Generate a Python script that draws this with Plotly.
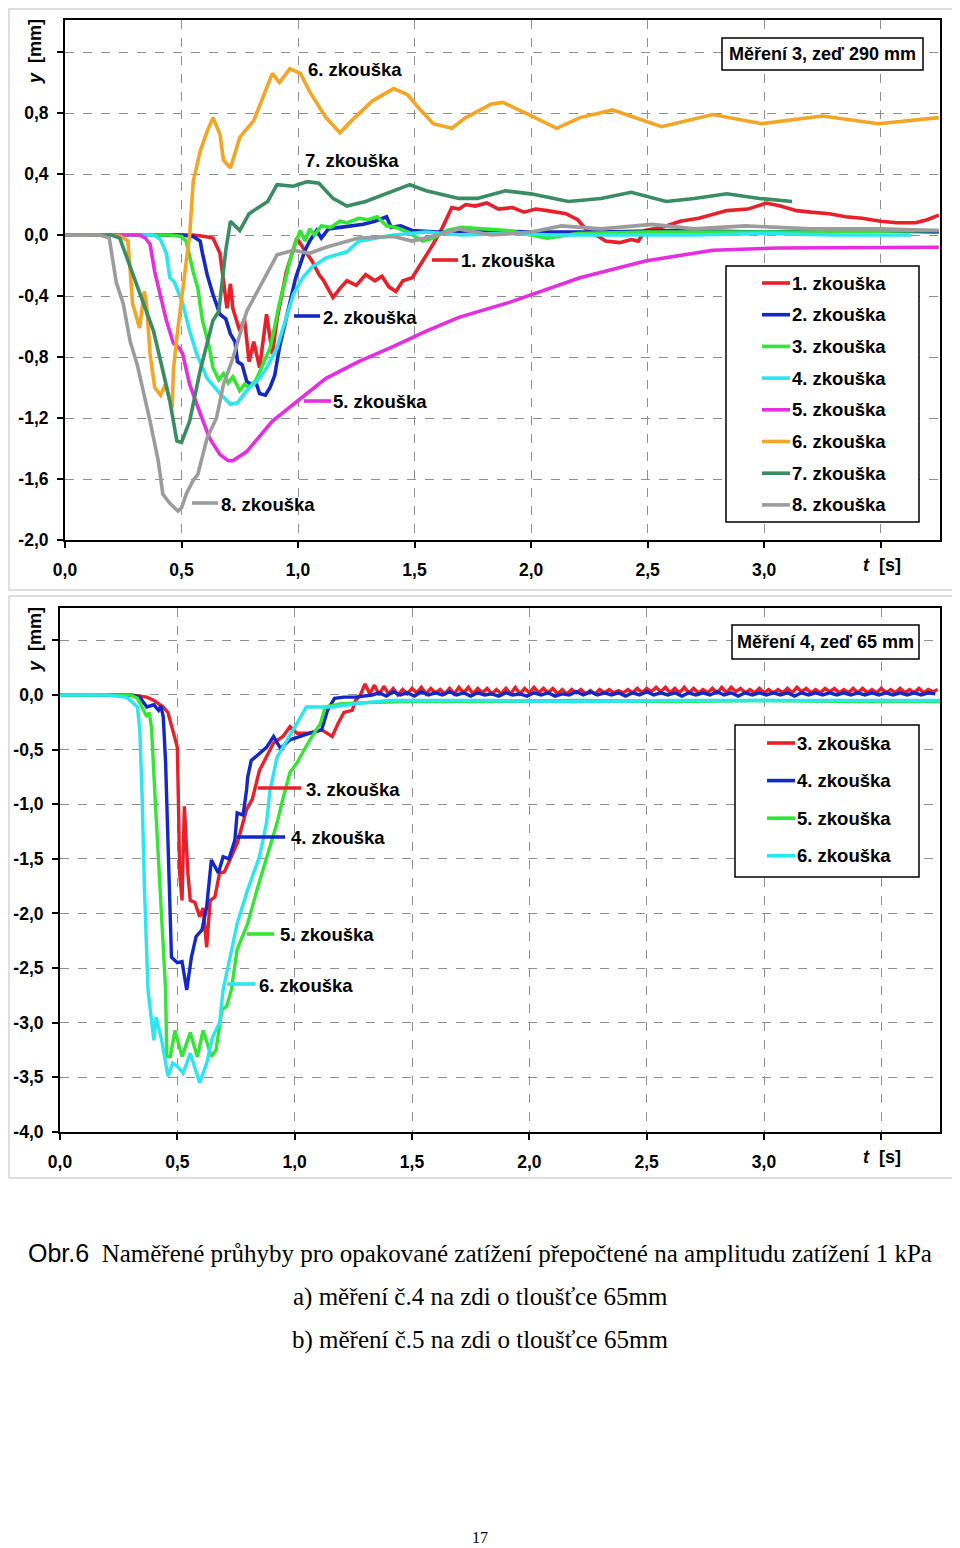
import plotly.graph_objects as go

# ---------------- DATA ----------------
top_names = ["1. zkouška", "2. zkouška", "3. zkouška", "4. zkouška",
             "5. zkouška", "6. zkouška", "7. zkouška", "8. zkouška"]
top_colors = ["#E8202A", "#1428C8", "#33E633", "#2BE5F0",
              "#E62DE0", "#F5A524", "#3A8C62", "#9C9C9C"]

top_s1 = [(0, 0), (0.30, 0), (0.55, 0), (0.60, -0.01), (0.635, -0.02), (0.665, -0.12), (0.68, -0.30),
          (0.695, -0.48), (0.71, -0.32), (0.72, -0.48), (0.75, -0.63), (0.77, -0.55), (0.79, -0.83),
          (0.81, -0.70), (0.835, -0.87), (0.865, -0.52), (0.89, -0.78), (0.91, -0.55), (0.95, -0.24),
          (0.995, -0.02), (1.02, -0.08), (1.06, -0.17), (1.09, -0.26), (1.11, -0.30), (1.15, -0.41),
          (1.18, -0.35), (1.21, -0.30), (1.25, -0.33), (1.29, -0.26), (1.33, -0.30), (1.36, -0.27),
          (1.39, -0.34), (1.42, -0.37), (1.45, -0.30), (1.49, -0.28), (1.535, -0.17), (1.58, -0.06),
          (1.62, 0.05), (1.66, 0.18), (1.69, 0.17), (1.72, 0.20), (1.76, 0.19), (1.81, 0.21),
          (1.86, 0.17), (1.92, 0.18), (1.97, 0.15), (2.02, 0.17), (2.07, 0.16), (2.15, 0.14),
          (2.20, 0.10), (2.24, 0.03), (2.28, 0.0), (2.32, -0.04), (2.38, -0.05), (2.43, -0.03),
          (2.46, -0.04), (2.49, 0.03), (2.56, 0.05), (2.64, 0.09), (2.72, 0.11), (2.84, 0.16),
          (2.93, 0.17), (3.01, 0.21), (3.07, 0.19), (3.14, 0.16), (3.20, 0.15), (3.28, 0.14),
          (3.35, 0.12), (3.42, 0.11), (3.50, 0.09), (3.57, 0.08), (3.65, 0.08), (3.70, 0.10), (3.75, 0.13)]

top_s2 = [(0, 0), (0.30, 0), (0.50, 0), (0.55, -0.01), (0.58, -0.04), (0.59, -0.12), (0.61, -0.26),
          (0.635, -0.39), (0.665, -0.52), (0.69, -0.55), (0.71, -0.65), (0.73, -0.70), (0.74, -0.83),
          (0.76, -0.85), (0.78, -0.96), (0.80, -0.98), (0.82, -0.97), (0.835, -1.04), (0.86, -1.05),
          (0.88, -1.00), (0.90, -0.92), (0.92, -0.74), (0.945, -0.58), (0.965, -0.45), (0.99, -0.28),
          (1.01, -0.19), (1.03, -0.10), (1.05, -0.04), (1.08, 0.03), (1.10, -0.02), (1.13, 0.04),
          (1.18, 0.05), (1.23, 0.06), (1.28, 0.07), (1.33, 0.09), (1.38, 0.12), (1.40, 0.05),
          (1.44, 0.06), (1.49, 0.03), (1.60, 0.02), (1.80, 0.03), (2.00, 0.02), (2.30, 0.02),
          (2.60, 0.03), (3.00, 0.02), (3.40, 0.03), (3.75, 0.02)]

top_s3 = [(0, 0), (0.30, 0), (0.45, 0), (0.50, -0.01), (0.52, -0.04), (0.55, -0.24), (0.57, -0.35),
          (0.59, -0.56), (0.61, -0.67), (0.62, -0.74), (0.635, -0.87), (0.66, -0.95), (0.68, -0.91),
          (0.70, -0.97), (0.72, -0.93), (0.75, -1.02), (0.77, -0.98), (0.79, -1.00), (0.82, -0.95),
          (0.85, -0.85), (0.88, -0.74), (0.90, -0.60), (0.92, -0.45), (0.945, -0.30), (0.965, -0.17),
          (0.99, -0.05), (1.01, 0.03), (1.03, -0.04), (1.05, 0.04), (1.07, 0.0), (1.10, 0.06),
          (1.14, 0.05), (1.18, 0.09), (1.21, 0.08), (1.26, 0.11), (1.30, 0.10), (1.34, 0.12),
          (1.38, 0.06), (1.42, 0.05), (1.47, 0.02), (1.535, -0.04), (1.58, -0.02), (1.64, 0.03),
          (1.70, 0.05), (1.78, 0.04), (1.90, 0.03), (2.00, 0.0), (2.07, -0.02), (2.20, 0.01),
          (2.50, 0.02), (2.80, 0.02), (3.20, 0.02), (3.75, 0.03)]

top_s4 = [(0, 0), (0.30, 0), (0.38, 0), (0.41, -0.03), (0.435, -0.12), (0.45, -0.28), (0.47, -0.31),
          (0.505, -0.45), (0.535, -0.63), (0.565, -0.78), (0.61, -0.94), (0.665, -1.04), (0.71, -1.11),
          (0.74, -1.10), (0.78, -1.02), (0.835, -0.94), (0.87, -0.86), (0.91, -0.74), (0.95, -0.55),
          (0.98, -0.39), (1.02, -0.28), (1.06, -0.21), (1.12, -0.15), (1.21, -0.11), (1.26, -0.04),
          (1.33, -0.02), (1.41, 0.0), (1.55, 0.02), (1.70, 0.0), (1.90, 0.01), (2.10, 0.0),
          (2.40, 0.0), (2.70, 0.0), (3.00, 0.01), (3.30, 0.0), (3.63, 0.0)]

top_s5 = [(0, 0), (0.30, 0), (0.32, 0), (0.345, -0.02), (0.365, -0.06), (0.385, -0.24), (0.41, -0.39),
          (0.435, -0.56), (0.465, -0.71), (0.49, -0.74), (0.505, -0.78), (0.535, -0.98), (0.58, -1.17),
          (0.62, -1.33), (0.665, -1.44), (0.70, -1.48), (0.72, -1.48), (0.78, -1.42), (0.89, -1.22),
          (1.01, -1.07), (1.12, -0.94), (1.26, -0.83), (1.41, -0.73), (1.55, -0.63), (1.69, -0.54),
          (1.91, -0.44), (2.21, -0.28), (2.49, -0.17), (2.78, -0.10), (3.06, -0.085), (3.40, -0.08),
          (3.75, -0.08)]

top_s6 = [(0, 0), (0.20, 0), (0.24, -0.01), (0.27, -0.04), (0.28, -0.24), (0.29, -0.45), (0.32, -0.61),
          (0.34, -0.37), (0.35, -0.45), (0.365, -0.78), (0.385, -1.00), (0.41, -1.05), (0.43, -0.98),
          (0.46, -1.13), (0.465, -0.89), (0.48, -0.67), (0.51, -0.30), (0.53, -0.04), (0.535, 0.0),
          (0.55, 0.35), (0.58, 0.55), (0.61, 0.68), (0.635, 0.77), (0.665, 0.66), (0.68, 0.49),
          (0.71, 0.44), (0.75, 0.64), (0.81, 0.75), (0.85, 0.90), (0.89, 1.06), (0.92, 1.00),
          (0.965, 1.09), (1.01, 1.06), (1.05, 0.94), (1.12, 0.77), (1.18, 0.67), (1.23, 0.75),
          (1.32, 0.88), (1.41, 0.96), (1.47, 0.92), (1.52, 0.83), (1.58, 0.73), (1.66, 0.70),
          (1.72, 0.77), (1.83, 0.86), (1.88, 0.87), (1.99, 0.79), (2.11, 0.70), (2.21, 0.77),
          (2.35, 0.82), (2.56, 0.71), (2.78, 0.79), (2.99, 0.73), (3.25, 0.78), (3.49, 0.73), (3.75, 0.77)]

top_s7 = [(0, 0), (0.20, 0), (0.235, -0.02), (0.27, -0.17), (0.32, -0.39), (0.38, -0.63), (0.42, -0.89),
          (0.45, -1.09), (0.48, -1.35), (0.50, -1.36), (0.535, -1.22), (0.58, -0.89), (0.635, -0.56),
          (0.66, -0.50), (0.69, -0.10), (0.71, 0.09), (0.75, 0.03), (0.79, 0.14), (0.83, 0.18),
          (0.87, 0.22), (0.91, 0.33), (0.98, 0.32), (1.04, 0.35), (1.09, 0.34), (1.15, 0.24),
          (1.21, 0.19), (1.29, 0.22), (1.41, 0.29), (1.48, 0.33), (1.55, 0.29), (1.69, 0.24),
          (1.77, 0.24), (1.89, 0.29), (2.00, 0.27), (2.16, 0.22), (2.30, 0.24), (2.43, 0.28),
          (2.58, 0.22), (2.70, 0.24), (2.84, 0.27), (2.98, 0.24), (3.12, 0.22)]

top_s8 = [(0, 0), (0.15, 0), (0.19, -0.02), (0.22, -0.31), (0.25, -0.45), (0.28, -0.70), (0.31, -0.85),
          (0.34, -1.04), (0.365, -1.22), (0.40, -1.48), (0.42, -1.70), (0.45, -1.76), (0.485, -1.81),
          (0.50, -1.79), (0.52, -1.70), (0.55, -1.61), (0.57, -1.57), (0.61, -1.33), (0.65, -1.20),
          (0.68, -0.98), (0.72, -0.81), (0.78, -0.50), (0.87, -0.24), (0.91, -0.13), (0.98, -0.10),
          (1.05, -0.12), (1.12, -0.08), (1.26, -0.02), (1.41, -0.01), (1.49, -0.04), (1.60, 0.0),
          (1.69, 0.04), (1.83, 0.0), (2.00, 0.02), (2.13, 0.06), (2.30, 0.04), (2.52, 0.07),
          (2.70, 0.04), (2.92, 0.06), (3.20, 0.04), (3.50, 0.04), (3.75, 0.03)]

top_series = [top_s1, top_s2, top_s3, top_s4, top_s5, top_s6, top_s7, top_s8]

bot_names = ["3. zkouška", "4. zkouška", "5. zkouška", "6. zkouška"]
bot_colors = ["#E8202A", "#1428C8", "#33E633", "#2BE5F0"]

bot_s3 = [(0, 0), (0.20, 0), (0.30, 0), (0.37, -0.02), (0.40, -0.05), (0.44, -0.11), (0.46, -0.16),
          (0.48, -0.32), (0.50, -0.48), (0.505, -1.02), (0.51, -1.63), (0.52, -1.88), (0.53, -1.02),
          (0.545, -1.63), (0.555, -1.88), (0.575, -1.90), (0.595, -2.03), (0.61, -1.95), (0.625, -2.31),
          (0.64, -1.88), (0.66, -1.85), (0.68, -1.63), (0.70, -1.62), (0.73, -1.48), (0.755, -1.36),
          (0.795, -1.05), (0.82, -0.95), (0.85, -0.69), (0.88, -0.57), (0.91, -0.44), (0.95, -0.38),
          (0.98, -0.29), (1.01, -0.35), (1.06, -0.35), (1.115, -0.32), (1.16, -0.38), (1.185, -0.26),
          (1.21, -0.16), (1.245, -0.14), (1.26, -0.05)]
bot_s3_tail_start = 1.28
bot_s3_tail_step = 0.02
bot_s3_tail = [0.00, 0.10, 0.01, 0.09, 0.00, 0.08, 0.01, 0.06, 0.00, 0.05, 0.01, 0.06, 0.02, 0.07,
               0.01, 0.06, 0.02, 0.05, 0.01, 0.06, 0.01, 0.07, 0.02, 0.07, 0.01, 0.06, 0.02, 0.06,
               0.01, 0.05, 0.01, 0.06, 0.01, 0.07, 0.01, 0.06, 0.02, 0.07, 0.02, 0.06, 0.02, 0.06,
               0.01, 0.05, 0.01, 0.05, 0.02, 0.05, 0.01, 0.04, 0.01, 0.05, 0.02, 0.05, 0.02, 0.04,
               0.02, 0.05, 0.02, 0.06, 0.02, 0.06, 0.03, 0.07, 0.03, 0.07, 0.02, 0.06, 0.02, 0.07,
               0.02, 0.06, 0.02, 0.05, 0.02, 0.06, 0.02, 0.07, 0.02, 0.07, 0.03, 0.06, 0.02, 0.05,
               0.02, 0.06, 0.02, 0.05, 0.02, 0.05, 0.02, 0.06, 0.02, 0.07, 0.03, 0.06, 0.02, 0.05,
               0.02, 0.06, 0.03, 0.06, 0.02, 0.05, 0.02, 0.06, 0.02, 0.06, 0.02, 0.05, 0.02, 0.06,
               0.02, 0.05, 0.02, 0.06, 0.02, 0.05, 0.02, 0.06, 0.02, 0.05, 0.03, 0.05]

bot_s4 = [(0, 0), (0.20, 0), (0.30, 0), (0.34, -0.02), (0.37, -0.11), (0.40, -0.09), (0.42, -0.14),
          (0.43, -0.10), (0.44, -0.20), (0.45, -0.62), (0.455, -1.02), (0.46, -1.48), (0.475, -2.40),
          (0.50, -2.45), (0.52, -2.44), (0.54, -2.70), (0.56, -2.40), (0.58, -2.21), (0.605, -2.15),
          (0.625, -1.94), (0.645, -1.51), (0.675, -1.63), (0.695, -1.48), (0.72, -1.50), (0.745, -1.33),
          (0.755, -1.08), (0.78, -1.10), (0.795, -0.87), (0.80, -0.75), (0.815, -0.60), (0.85, -0.53),
          (0.88, -0.48), (0.91, -0.38), (0.94, -0.49), (0.98, -0.41), (1.02, -0.38), (1.065, -0.35),
          (1.115, -0.32), (1.14, -0.14), (1.17, -0.03), (1.21, -0.02), (1.26, -0.02), (1.33, 0.0)]
bot_s4_tail_start = 1.36
bot_s4_tail_step = 0.03
bot_s4_tail = [0.02, -0.01, 0.03, 0.0, 0.02, -0.01, 0.03, 0.0, 0.02, 0.0, 0.03, 0.0, 0.02, -0.01,
               0.02, 0.0, 0.01, -0.01, 0.02, 0.0, 0.01, -0.01, 0.02, 0.0, 0.02, -0.01, 0.01, 0.0,
               0.03, 0.0, 0.03, 0.0, 0.02, 0.0, 0.02, -0.01, 0.02, 0.0, 0.03, 0.0, 0.02, 0.0,
               0.02, -0.01, 0.02, 0.0, 0.02, 0.0, 0.03, 0.0, 0.02, -0.01, 0.02, 0.0, 0.02, 0.0,
               0.02, 0.0, 0.02, -0.01, 0.02, 0.0, 0.02, 0.0, 0.02, 0.0, 0.02, 0.0, 0.02, 0.0,
               0.02, 0.0, 0.02, 0.0, 0.02, 0.0, 0.02, 0.0, 0.02, 0.01]

bot_s5 = [(0, 0), (0.20, 0), (0.30, 0), (0.33, -0.03), (0.35, -0.11), (0.37, -0.20), (0.38, -0.16),
          (0.39, -0.30), (0.405, -0.93), (0.425, -1.78), (0.45, -2.70), (0.455, -3.31), (0.47, -3.31),
          (0.49, -3.07), (0.52, -3.31), (0.555, -3.09), (0.585, -3.31), (0.61, -3.07), (0.645, -3.31),
          (0.665, -3.25), (0.69, -2.88), (0.71, -2.85), (0.73, -2.70), (0.755, -2.33), (0.80, -2.09),
          (0.84, -1.78), (0.88, -1.48), (0.925, -1.17), (0.95, -0.95), (0.98, -0.71), (1.01, -0.62),
          (1.065, -0.41), (1.11, -0.26), (1.13, -0.11), (1.20, -0.08), (1.30, -0.07), (1.50, -0.06),
          (1.80, -0.06), (2.20, -0.05), (2.60, -0.06), (3.00, -0.05), (3.40, -0.06), (3.75, -0.06)]

bot_s6 = [(0, 0), (0.20, 0), (0.28, -0.02), (0.30, -0.05), (0.33, -0.11), (0.34, -0.32), (0.35, -0.93),
          (0.36, -1.78), (0.375, -2.70), (0.40, -3.16), (0.41, -2.95), (0.435, -3.18), (0.46, -3.49),
          (0.48, -3.37), (0.50, -3.40), (0.525, -3.46), (0.555, -3.28), (0.595, -3.55), (0.625, -3.37),
          (0.65, -3.13), (0.68, -3.00), (0.695, -2.70), (0.725, -2.40), (0.755, -2.09), (0.80, -1.78),
          (0.85, -1.48), (0.88, -1.17), (0.895, -0.87), (0.925, -0.57), (0.97, -0.41), (1.01, -0.26),
          (1.05, -0.11), (1.16, -0.11), (1.26, -0.08), (1.40, -0.05), (1.80, -0.05), (2.20, -0.06),
          (2.60, -0.05), (3.00, -0.05), (3.40, -0.05), (3.75, -0.05)]

top_xticks = [0, 0.5, 1.0, 1.5, 2.0, 2.5, 3.0, 3.5]
top_xtext = ["0,0", "0,5", "1,0", "1,5", "2,0", "2,5", "3,0", ""]
top_yticks = [-2.0, -1.6, -1.2, -0.8, -0.4, 0.0, 0.4, 0.8, 1.2]
top_ytext = ["-2,0", "-1,6", "-1,2", "-0,8", "-0,4", "0,0", "0,4", "0,8", ""]
bot_xticks = top_xticks
bot_xtext = top_xtext
bot_yticks = [-4.0, -3.5, -3.0, -2.5, -2.0, -1.5, -1.0, -0.5, 0.0, 0.5]
bot_ytext = ["-4,0", "-3,5", "-3,0", "-2,5", "-2,0", "-1,5", "-1,0", "-0,5", "0,0", ""]

top_title = "Měření 3, zeď 290 mm"
bot_title = "Měření 4, zeď 65 mm"
caption_1 = "<span style='font-family:Liberation Sans'>Obr.6</span>  Naměřené průhyby pro opakované zatížení přepočtené na amplitudu zatížení 1 kPa"
caption_2 = "a) měření č.4 na zdi o tloušťce 65mm"
caption_3 = "b) měření č.5 na zdi o tloušťce 65mm"
page_no = "17"

# ---------------- FIGURE ----------------
# The page body adds an 8 px offset, so the figure is 8 px smaller and all
# page positions below are given in page pixels and shifted by OFF.
OFF = 8
W, H = 960 - OFF, 1548 - OFF


def px(x):
    return (x - OFF) / W


def py(y):
    return 1 - (y - OFF) / H


fig = go.Figure()

for pts, c in zip(top_series, top_colors):
    t, y = zip(*pts)
    fig.add_trace(go.Scatter(x=list(t), y=list(y), mode="lines", line=dict(color=c, width=3.6),
                             xaxis="x", yaxis="y", showlegend=False, hoverinfo="skip"))

bot_tails = {0: (bot_s3_tail_start, bot_s3_tail_step, bot_s3_tail),
             1: (bot_s4_tail_start, bot_s4_tail_step, bot_s4_tail)}
for i, (pts, c) in enumerate(zip([bot_s3, bot_s4, bot_s5, bot_s6], bot_colors)):
    t, y = map(list, zip(*pts))
    if i in bot_tails:
        s, st, vals = bot_tails[i]
        t += [round(s + st * k, 4) for k in range(len(vals))]
        y += vals
    fig.add_trace(go.Scatter(x=t, y=y, mode="lines", line=dict(color=c, width=3.4),
                             xaxis="x2", yaxis="y2", showlegend=False, hoverinfo="skip"))

tickfont = dict(family="Liberation Sans", size=17.5, color="black", weight="bold")
axis_common = dict(showline=True, linecolor="black", linewidth=2, mirror=True,
                   showgrid=True, gridcolor="#8f8f8f", griddash="dash", gridwidth=1,
                   zeroline=False, ticks="outside", ticklen=6, tickwidth=2, tickcolor="black",
                   tickfont=tickfont, fixedrange=True, automargin=False)

fig.update_layout(
    width=W, height=H, margin=dict(l=0, r=0, t=0, b=0, autoexpand=False),
    paper_bgcolor="white", plot_bgcolor="white", showlegend=False,
    xaxis=dict(axis_common, domain=[px(65), px(940)], range=[0, 3.755], anchor="y",
               tickvals=top_xticks, ticktext=top_xtext, ticklabelstandoff=7),
    yaxis=dict(axis_common, domain=[py(540), py(20)], range=[-2.0, 1.41], anchor="x",
               tickvals=top_yticks, ticktext=top_ytext, ticklabelstandoff=5),
    xaxis2=dict(axis_common, domain=[px(60), px(940)], range=[0, 3.75], anchor="y2",
                tickvals=bot_xticks, ticktext=bot_xtext, ticklabelstandoff=7),
    yaxis2=dict(axis_common, domain=[py(1132), py(608)], range=[-4.0, 0.796], anchor="x2",
                tickvals=bot_yticks, ticktext=bot_ytext, ticklabelstandoff=5),
)

shapes = []
annotations = []
bold = dict(family="Liberation Sans", size=18.5, color="black", weight="bold")


def text(x, y, s, font=bold, xanchor="left", **kw):
    annotations.append(dict(x=px(x), y=py(y), xref="paper", yref="paper", text=s, showarrow=False,
                            xanchor=xanchor, yanchor="middle", font=font, **kw))


def hline(x0, x1, y, color, width=3.6):
    shapes.append(dict(type="line", xref="paper", yref="paper", x0=px(x0), x1=px(x1), y0=py(y), y1=py(y),
                       line=dict(color=color, width=width)))


def rect(x0, y0, x1, y1, color="black", width=1.5):
    shapes.append(dict(type="rect", xref="paper", yref="paper", x0=px(x0), x1=px(x1), y0=py(y0), y1=py(y1),
                       line=dict(color=color, width=width), fillcolor="rgba(0,0,0,0)"))


# panel frames
rect(9, 9, 955, 590, color="#d4d4d4", width=1.5)
rect(9, 596, 955, 1178, color="#d4d4d4", width=1.5)

# axis titles
ytitle = "<i>y</i>  [mm]"
axfont = dict(tickfont, size=18)
text(35, 52, ytitle, font=axfont, xanchor="center", textangle=-90)
text(35, 640, ytitle, font=axfont, xanchor="center", textangle=-90)
text(882, 565, "<i>t</i>  [s]", font=axfont, xanchor="center")
text(882, 1157, "<i>t</i>  [s]", font=axfont, xanchor="center")

# title boxes
shapes.append(dict(type="rect", xref="paper", yref="paper", x0=px(722), x1=px(923), y0=py(38), y1=py(70),
                   line=dict(color="black", width=1.5), fillcolor="white"))
text(822.5, 54, top_title, font=dict(bold, size=18), xanchor="center")
shapes.append(dict(type="rect", xref="paper", yref="paper", x0=px(732), x1=px(919), y0=py(625), y1=py(659),
                   line=dict(color="black", width=1.5), fillcolor="white"))
text(825.5, 642, bot_title, font=dict(bold, size=18), xanchor="center")

# legends
shapes.append(dict(type="rect", xref="paper", yref="paper", x0=px(726), x1=px(919), y0=py(266), y1=py(522),
                   line=dict(color="black", width=1.5), fillcolor="white"))
for i, (n, c) in enumerate(zip(top_names, top_colors)):
    yy = 283 + 31.7 * i
    hline(762, 790, yy, c)
    text(790, yy, n)
shapes.append(dict(type="rect", xref="paper", yref="paper", x0=px(735), x1=px(919), y0=py(725), y1=py(877),
                   line=dict(color="black", width=1.5), fillcolor="white"))
for i, (n, c) in enumerate(zip(bot_names, bot_colors)):
    yy = 743 + 37.6 * i
    hline(767, 795, yy, c)
    text(795, yy, n)

# in-plot labels (top)
text(355, 70, top_names[5], xanchor="center")
text(352, 161, top_names[6], xanchor="center")
hline(432, 458, 260, top_colors[0]); text(459, 261, top_names[0])
hline(294, 320, 316, top_colors[1]); text(321, 317, top_names[1])
hline(304, 331, 401, top_colors[4]); text(331, 402, top_names[4])
hline(192, 218, 503, top_colors[7]); text(219, 504, top_names[7])

# in-plot labels (bottom)
hline(258, 301, 788, bot_colors[0]); text(304, 789, bot_names[0])
hline(237, 285, 837, bot_colors[1]); text(289, 837, bot_names[1])
hline(247, 274, 934, bot_colors[2]); text(278, 935, bot_names[2])
hline(227, 255, 984, bot_colors[3]); text(257, 985, bot_names[3])

# caption
serif = dict(family="Liberation Serif", size=25, color="black")
text(480, 1253, caption_1, font=serif, xanchor="center")
text(480, 1297, caption_2, font=serif, xanchor="center")
text(480, 1340, caption_3, font=serif, xanchor="center")
text(480, 1537, page_no, font=dict(family="Liberation Serif", size=16, color="black"), xanchor="center")

fig.update_layout(shapes=shapes, annotations=annotations)
fig.write_html("out.html")
